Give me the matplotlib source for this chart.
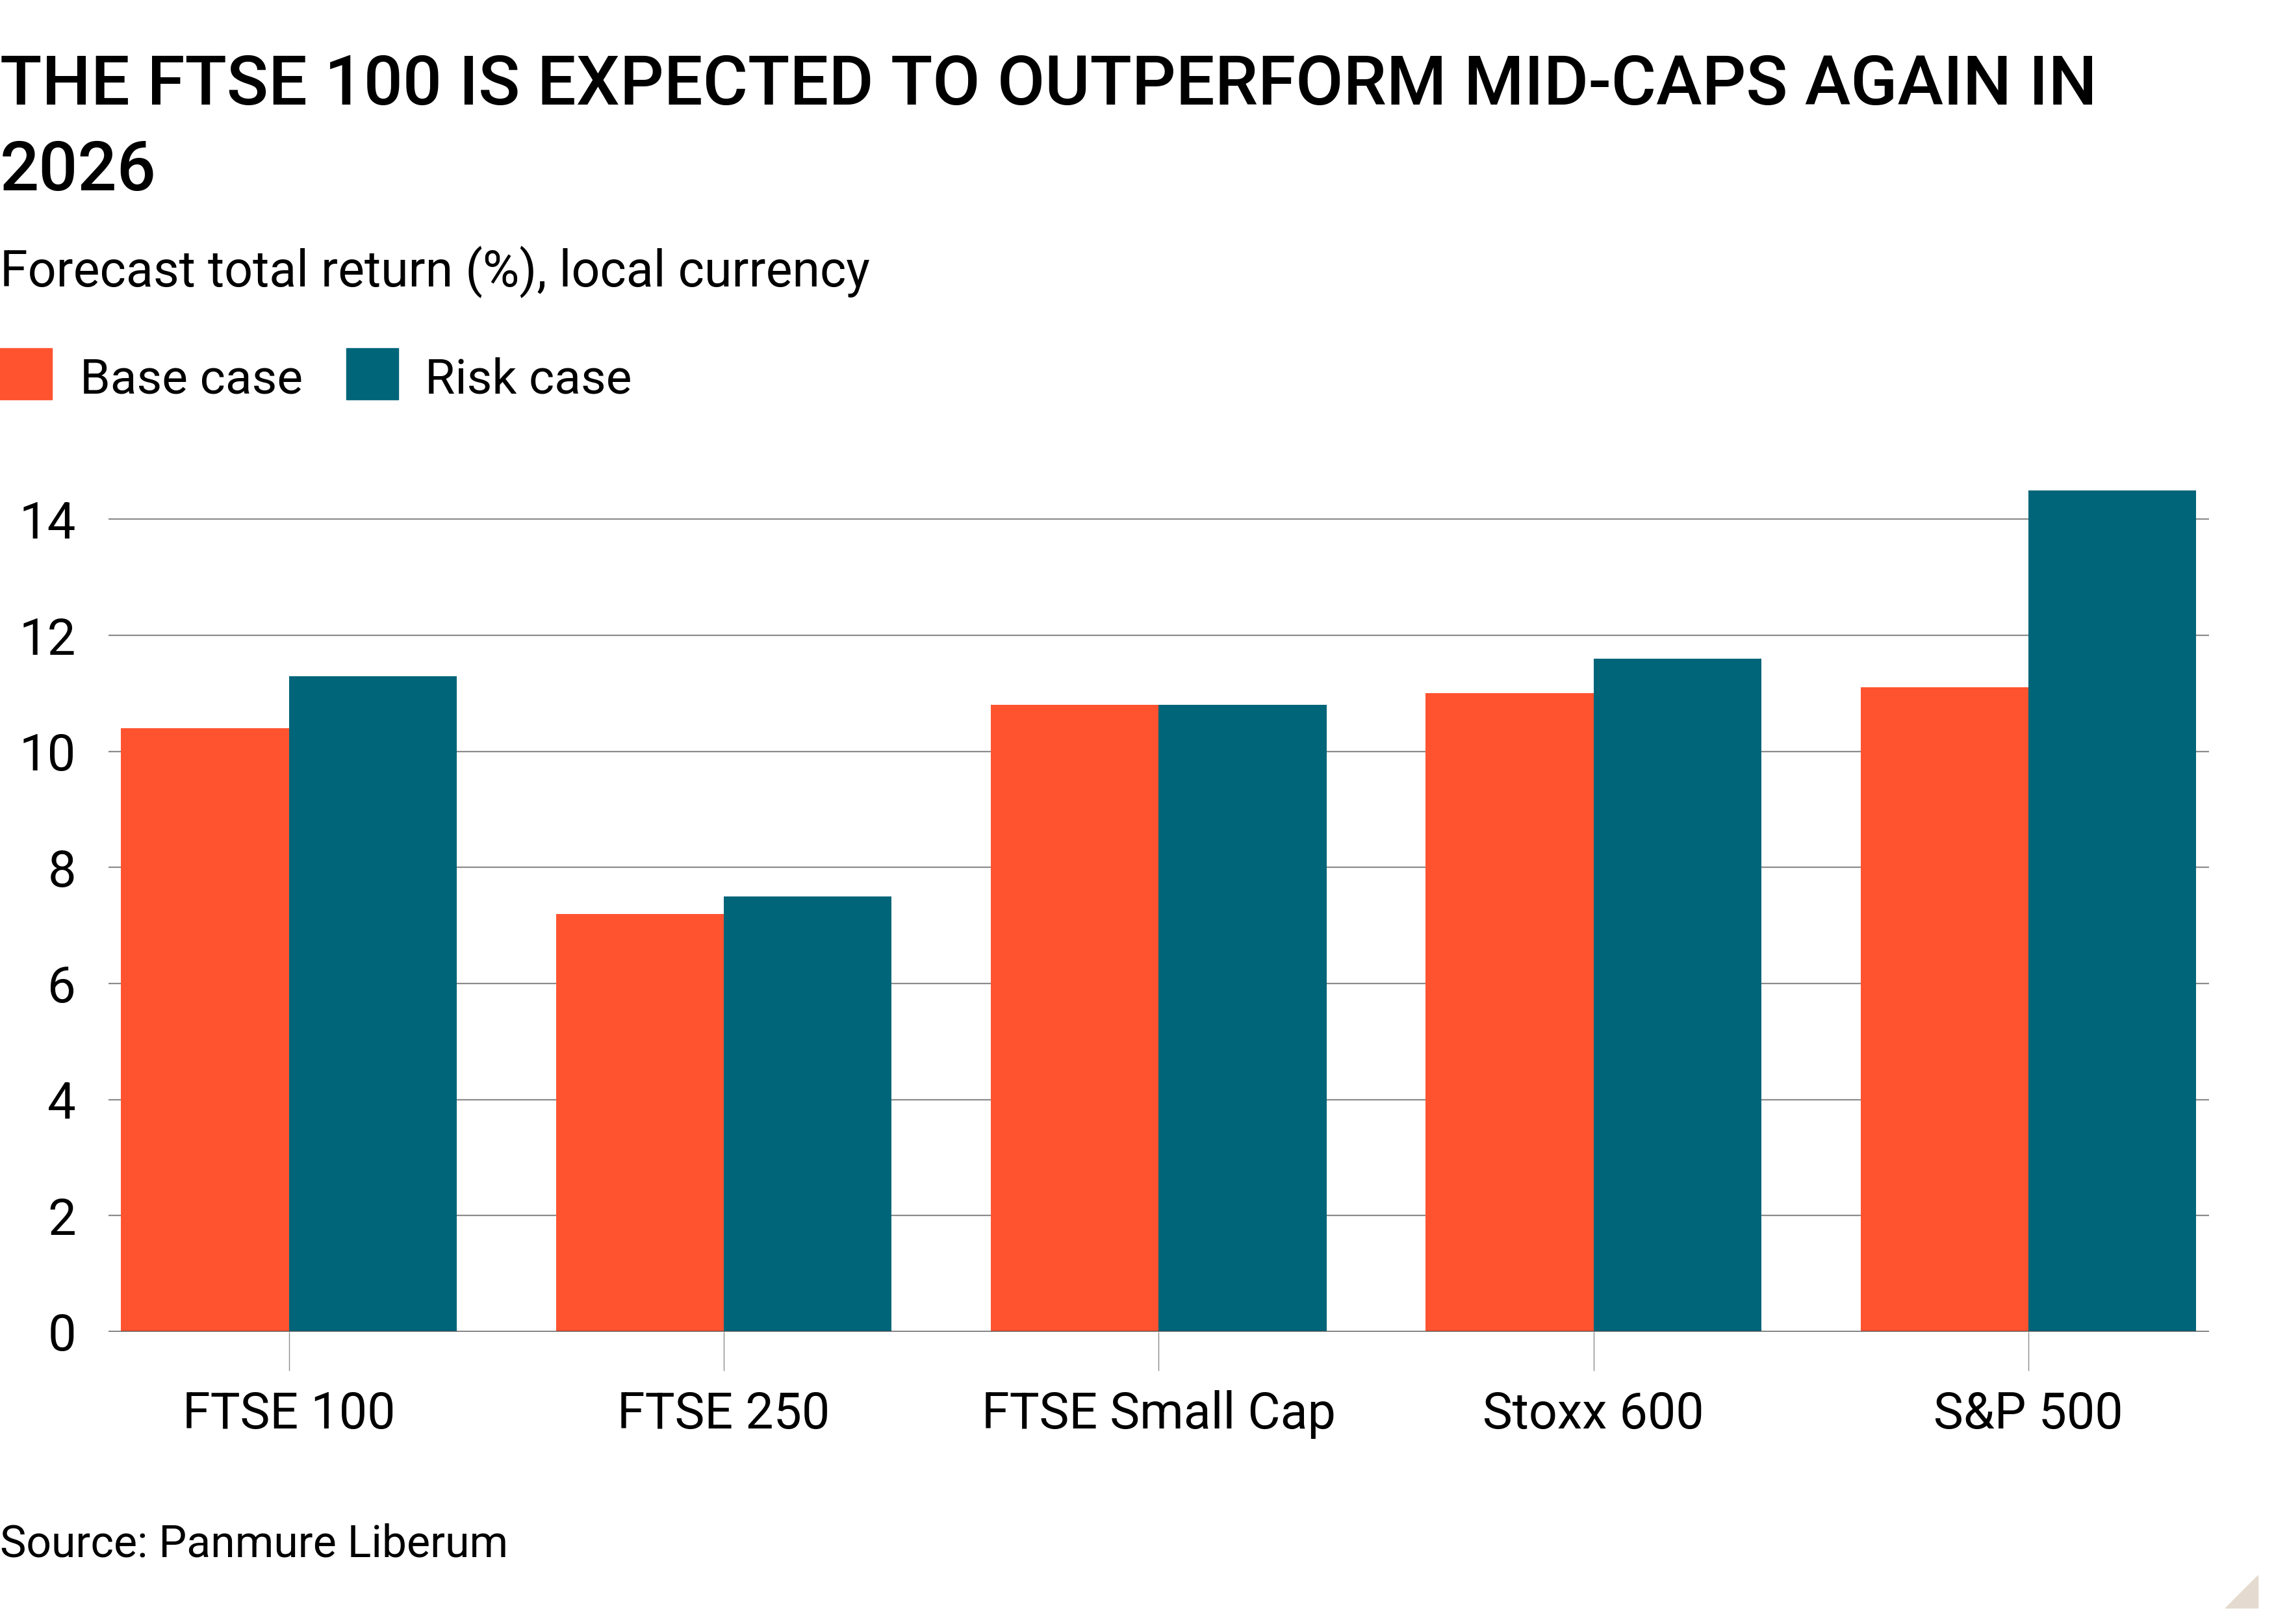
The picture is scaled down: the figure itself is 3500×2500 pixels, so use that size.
import numpy as np
import matplotlib
matplotlib.use('Agg')
import matplotlib.pyplot as plt
from matplotlib import font_manager
from matplotlib.patches import Rectangle, Polygon

# data
categories = ['FTSE 100', 'FTSE 250', 'FTSE Small Cap', 'Stoxx 600', 'S&P 500']
base_case = [10.4, 7.2, 10.8, 11.0, 11.1]
risk_case = [11.3, 7.5, 10.8, 11.6, 14.5]
yticks = [0, 2, 4, 6, 8, 10, 12, 14]

title_lines = ['THE FTSE 100 IS EXPECTED TO OUTPERFORM MID-CAPS AGAIN IN', '2026']
subtitle = 'Forecast total return (%), local currency'
source = 'Source: Panmure Liberum'

ORANGE = '#ff5330'
TEAL = '#006579'

# pick a narrow face if there is one, the original uses a condensed font
installed = {f.name for f in font_manager.fontManager.ttflist}
if 'Liberation Sans Narrow' in installed:
    fam = 'Liberation Sans Narrow'
else:
    fam = 'Roboto'
plt.rcParams['font.family'] = [fam, 'DejaVu Sans']

fig = plt.figure(figsize=(35, 25), dpi=100)
ax = fig.add_axes([0.0477, 0.18, 0.9237, 0.536])

x = np.arange(len(categories))
w = 0.386
ax.bar(x - w / 2, base_case, w, color=ORANGE, zorder=2)
ax.bar(x + w / 2, risk_case, w, color=TEAL, zorder=2)

ax.set_xlim(-0.415, len(categories) - 1 + 0.415)
ax.set_ylim(0, 15)
ax.set_yticks(yticks)
ax.set_xticks(x)
ax.set_xticklabels(categories)

for s in ax.spines.values():
    s.set_visible(False)
ax.axhline(0, color='#4d4d4d', lw=2.5, zorder=3)
ax.yaxis.grid(True, color='#8c8c8c', lw=1.6, zorder=0)
ax.set_axisbelow(True)

ax.tick_params(axis='y', length=0, pad=36, labelsize=56)
ax.tick_params(axis='x', length=43, width=1, color='#8c8c8c', pad=22, labelsize=55.5)

# title block
fig.text(0.0, 0.9356, title_lines[0], fontsize=76.3, fontweight='medium', va='baseline', ha='left')
fig.text(0.0, 0.8828, title_lines[1], fontsize=76.3, fontweight='medium', va='baseline', ha='left')
fig.text(0.0, 0.8234, subtitle, fontsize=55.5, va='baseline', ha='left')

# legend, drawn by hand
fig.patches.append(Rectangle((0.0, 0.754), 0.0229, 0.0316, transform=fig.transFigure,
                             color=ORANGE, figure=fig))
fig.text(0.0350, 0.758, 'Base case', fontsize=54, va='baseline', ha='left')
fig.patches.append(Rectangle((0.1523, 0.754), 0.0229, 0.0316, transform=fig.transFigure,
                             color=TEAL, figure=fig))
fig.text(0.1870, 0.758, 'Risk case', fontsize=54, va='baseline', ha='left')

fig.text(0.0, 0.0413, source, fontsize=49, va='baseline', ha='left')

# little corner mark
fig.patches.append(Polygon([(0.99286, 0.03), (0.99286, 0.01), (0.97857, 0.01)],
                           closed=True, transform=fig.transFigure, color='#e4dacf', figure=fig))

fig.savefig('out.png', dpi=100, facecolor='white')
